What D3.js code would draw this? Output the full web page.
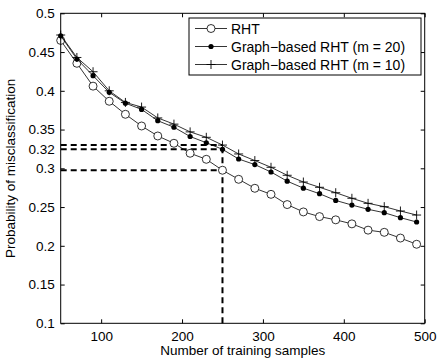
<!DOCTYPE html>
<html>
<head>
<style>
  body { margin: 0; background: #fff; }
  svg { position: absolute; top: 0; left: 0; font-family: "Liberation Sans", Arial, sans-serif; }
  .frame { fill: none; stroke: #000; stroke-width: 1px; }
  .series { fill: none; stroke: #000; stroke-width: 0.8px; }
  .guide { fill: none; stroke: #000; stroke-width: 2px; stroke-dasharray: 6,4; }
</style>
<script src="https://cdnjs.cloudflare.com/ajax/libs/d3/7.8.5/d3.min.js"></script>
</head>
<body>
<svg width="438" height="358"></svg>
<script>
// data
var samples = [50, 70, 90, 110, 130, 150, 170, 190, 210, 230, 250, 270, 290, 310, 330, 350, 370, 390, 410, 430, 450, 470, 490];
var rht = [0.465, 0.4355, 0.406, 0.3865, 0.3697, 0.3546, 0.3417, 0.3323, 0.3194, 0.3116, 0.2975, 0.2858, 0.2742, 0.2664, 0.2532, 0.2437, 0.2377, 0.2335, 0.2283, 0.2202, 0.2174, 0.2100, 0.2020];
var gm20 = [0.471, 0.441, 0.4195, 0.398, 0.384, 0.376, 0.3614, 0.353, 0.341, 0.333, 0.3245, 0.312, 0.3048, 0.2952, 0.2834, 0.2744, 0.2672, 0.2585, 0.2526, 0.2471, 0.2427, 0.2363, 0.2307];
var gm10 = [0.472, 0.443, 0.4246, 0.400, 0.385, 0.379, 0.365, 0.357, 0.347, 0.340, 0.330, 0.3185, 0.310, 0.3013, 0.291, 0.2823, 0.2755, 0.2685, 0.2613, 0.2548, 0.2505, 0.2449, 0.2397];
var seriesNames = ["RHT", "Graph\u2212based RHT (m = 20)", "Graph\u2212based RHT (m = 10)"];
var xTicks = [100, 200, 300, 400, 500];
var yTicks = [0.1, 0.15, 0.2, 0.25, 0.3, 0.35, 0.4, 0.45, 0.5];
var yTickLabels = ["0.1", "0.15", "0.2", "0.25", "0.3", "0.35", "0.4", "0.45", "0.5"];
var markedSample = 250;
var extraLabel = "0.32";

var svg = d3.select("svg"),
    mLeft = 60.7, mRight = 424.7, mTop = 13.3, mBottom = 323.3;

var x = d3.scaleLinear().domain([50, 500]).range([mLeft, mRight]);
var y = d3.scaleLinear().domain([0.1, 0.5]).range([mBottom, mTop]);

var series = [
  {name: seriesNames[0], values: rht, marker: "circle"},
  {name: seriesNames[1], values: gm20, marker: "dot"},
  {name: seriesNames[2], values: gm10, marker: "plus"}
];

function drawMarker(g, type, cx, cy) {
  if (type == "circle") {
    g.append("circle").attr("cx", cx).attr("cy", cy).attr("r", 4)
      .attr("fill", "#fff").attr("stroke", "#000").attr("stroke-width", 0.8);
  } else if (type == "dot") {
    g.append("circle").attr("cx", cx).attr("cy", cy).attr("r", 2.6).attr("fill", "#000");
  } else {
    g.append("path").attr("d", "M" + (cx - 4.5) + "," + cy + "h9M" + cx + "," + (cy - 4.5) + "v9")
      .attr("stroke", "#000").attr("stroke-width", 0.9).attr("fill", "none");
  }
}

// dashed guides at the marked sample size
var idx = samples.indexOf(markedSample);
var guides = svg.append("g");
series.forEach(function(s) {
  guides.append("line").attr("class", "guide")
    .attr("x1", x(50)).attr("x2", x(markedSample))
    .attr("y1", y(s.values[idx])).attr("y2", y(s.values[idx]));
});
guides.append("line").attr("class", "guide")
  .attr("x1", x(markedSample)).attr("x2", x(markedSample))
  .attr("y1", y(0.1)).attr("y2", y(d3.max(series, function(s) { return s.values[idx]; })));

var line = d3.line()
  .x(function(d, i) { return x(samples[i]); })
  .y(function(d) { return y(d); });

series.forEach(function(s) {
  svg.append("path").attr("class", "series").attr("d", line(s.values));
  var mg = svg.append("g");
  s.values.forEach(function(v, i) { drawMarker(mg, s.marker, x(samples[i]), y(v)); });
});

// axes (ticks pointing inward, matlab style)
var xb = svg.append("g").attr("transform", "translate(0," + mBottom + ")")
  .call(d3.axisBottom(x).tickValues(xTicks).tickSizeInner(-4).tickSizeOuter(0).tickPadding(8));
var xt = svg.append("g").attr("transform", "translate(0," + mTop + ")")
  .call(d3.axisTop(x).tickValues(xTicks).tickSizeInner(-4).tickSizeOuter(0).tickFormat(""));
var yl = svg.append("g").attr("transform", "translate(" + mLeft + ",0)")
  .call(d3.axisLeft(y).tickValues(yTicks).tickSizeInner(-4).tickSizeOuter(0).tickPadding(6)
    .tickFormat(function(d, i) { return yTickLabels[i]; }));
var yr = svg.append("g").attr("transform", "translate(" + mRight + ",0)")
  .call(d3.axisRight(y).tickValues(yTicks).tickSizeInner(-4).tickSizeOuter(0).tickFormat(""));
[xb, xt, yl, yr].forEach(function(a) {
  a.select(".domain").remove();
  a.selectAll("line").attr("stroke", "#000");
  a.selectAll("text").attr("font-size", 13.5).attr("fill", "#000").attr("font-family", null);
});

// extra label for the m = 20 level
yl.append("text").attr("x", -6).attr("y", y(0.3245)).attr("dy", "0.32em")
  .attr("text-anchor", "end").attr("font-size", 13.5).attr("fill", "#000").text(extraLabel);

svg.append("rect").attr("class", "frame")
  .attr("x", mLeft).attr("y", mTop).attr("width", mRight - mLeft).attr("height", mBottom - mTop);

// legend
var lg = svg.append("g");
lg.append("rect").attr("x", 189).attr("y", 18).attr("width", 232).attr("height", 57)
  .attr("fill", "#fff").attr("stroke", "#000").attr("stroke-width", 1);
series.forEach(function(s, i) {
  var ly = 28.5 + i * 18;
  lg.append("line").attr("x1", 195).attr("x2", 227).attr("y1", ly).attr("y2", ly)
    .attr("stroke", "#000").attr("stroke-width", 0.8);
  drawMarker(lg, s.marker, 211, ly);
  lg.append("text").attr("x", 231).attr("y", ly).attr("dy", "0.36em")
    .attr("font-size", 14).text(s.name);
});

// axis titles
svg.append("text").attr("x", (mLeft + mRight) / 2).attr("y", 355)
  .attr("text-anchor", "middle").attr("font-size", 13.5).text("Number of training samples");
svg.append("text").attr("transform", "translate(15," + (mTop + mBottom) / 2 + ") rotate(-90)")
  .attr("text-anchor", "middle").attr("font-size", 13.5).text("Probability of misclassification");
</script>
</body>
</html>
